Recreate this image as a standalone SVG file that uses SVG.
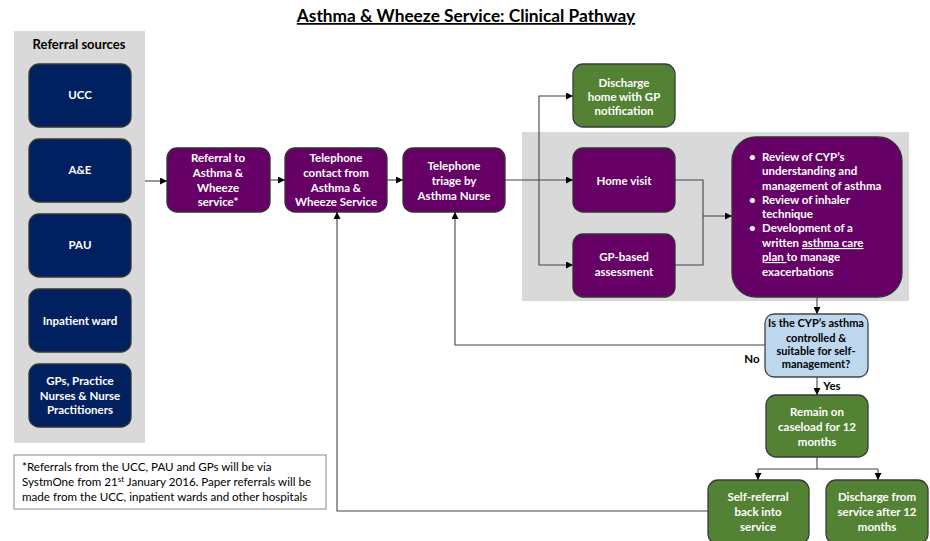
<svg xmlns="http://www.w3.org/2000/svg" width="930" height="541" viewBox="0 0 930 541">
<defs>
<marker id="ah" viewBox="0 0 10 10" refX="10" refY="5" markerWidth="7" markerHeight="7" markerUnits="userSpaceOnUse" orient="auto">
<path d="M0,0 L10,5 L0,10 z" fill="#000"/>
</marker>
<style>
text{font-family:Lato,"Liberation Sans",sans-serif;font-weight:bold;text-anchor:middle}
.t{fill:#fff;font-size:11.5px}
.d{fill:#000;font-size:11px}
.navy{fill:#002060;stroke:#333;stroke-width:1.3}
.purp{fill:#660066;stroke:#333;stroke-width:1.3}
.grn{fill:#548235;stroke:#3a3a3a;stroke-width:1.3}
.blue{fill:#BDD7EE;stroke:#444;stroke-width:1.3}
.panel{fill:#D9D9D9}
.c{fill:none;stroke:#444;stroke-width:1.1}
.ca{fill:none;stroke:#444;stroke-width:1.1;marker-end:url(#ah)}
.lbl{fill:#000;font-size:11.5px}
.fn{font-weight:normal;text-anchor:start;font-size:11.6px;fill:#000}
</style>
</defs>
<rect width="930" height="541" fill="#fff"/>
<text x="466" y="22" style="font-size:17.3px;text-decoration:underline" fill="#000">Asthma &amp; Wheeze Service: Clinical Pathway</text>

<rect class="panel" x="14" y="31" width="131" height="412"/>
<rect class="panel" x="522" y="132" width="387" height="169"/>
<text x="79" y="49" style="font-size:13px" fill="#000">Referral sources</text>

<g id="ucc"><rect class="navy" x="29" y="64" width="102" height="63" rx="10"/><text class="t" x="80" y="99">UCC</text></g>
<g id="ae"><rect class="navy" x="29" y="139" width="102" height="63" rx="10"/><text class="t" x="80" y="174">A&amp;E</text></g>
<g id="pau"><rect class="navy" x="29" y="214" width="102" height="63" rx="10"/><text class="t" x="80" y="249">PAU</text></g>
<g id="inpatient"><rect class="navy" x="29" y="289" width="102" height="63" rx="10"/><text class="t" x="80" y="325">Inpatient ward</text></g>
<g id="gps"><rect class="navy" x="29" y="364" width="102" height="63" rx="10"/><text class="t" x="80" y="385">GPs, Practice</text><text class="t" x="80" y="400">Nurses &amp; Nurse</text><text class="t" x="80" y="414">Practitioners</text></g>

<g id="footnote"><rect x="14" y="455" width="312" height="54" fill="#fff" stroke="#888" stroke-width="1"/>
<text class="fn" x="22" y="471">*Referrals from the UCC, PAU and GPs will be via</text>
<text class="fn" x="22" y="486">SystmOne from 21<tspan dy="-4" style="font-size:8px">st</tspan><tspan dy="4"> January 2016. Paper referrals will be</tspan></text>
<text class="fn" x="22" y="501">made from the UCC, inpatient wards and other hospitals</text></g>

<g id="referral"><rect class="purp" x="167" y="148" width="103" height="64" rx="10"/><text class="t" x="218" y="162">Referral to</text><text class="t" x="218" y="177">Asthma &amp;</text><text class="t" x="218" y="192">Wheeze</text><text class="t" x="218" y="206">service*</text></g>
<g id="contact"><rect class="purp" x="285" y="148" width="102" height="64" rx="10"/><text class="t" x="336" y="162">Telephone</text><text class="t" x="336" y="177">contact from</text><text class="t" x="336" y="192">Asthma &amp;</text><text class="t" x="336" y="206">Wheeze Service</text></g>
<g id="triage"><rect class="purp" x="403" y="148" width="102" height="64" rx="10"/><text class="t" x="454" y="170">Telephone</text><text class="t" x="454" y="185">triage by</text><text class="t" x="454" y="200">Asthma Nurse</text></g>

<g id="discharge-home"><rect class="grn" x="573" y="64" width="102" height="63" rx="10"/><text class="t" x="624" y="87">Discharge</text><text class="t" x="624" y="101">home with GP</text><text class="t" x="624" y="115">notification</text></g>
<g id="home-visit"><rect class="purp" x="573" y="148" width="102" height="64" rx="10"/><text class="t" x="624" y="185">Home visit</text></g>
<g id="gp-based"><rect class="purp" x="573" y="234" width="102" height="63" rx="10"/><text class="t" x="624" y="261">GP-based</text><text class="t" x="624" y="276">assessment</text></g>

<g id="review"><rect class="purp" x="732" y="137" width="170" height="160" rx="24"/>
<text class="t" x="749" y="161" style="text-anchor:start">•</text><text class="t" x="762" y="161" style="text-anchor:start">Review of CYP’s</text>
<text class="t" x="762" y="175" style="text-anchor:start">understanding and</text>
<text class="t" x="762" y="190" style="text-anchor:start">management of asthma</text>
<text class="t" x="749" y="204" style="text-anchor:start">•</text><text class="t" x="762" y="204" style="text-anchor:start">Review of inhaler</text>
<text class="t" x="762" y="218" style="text-anchor:start">technique</text>
<text class="t" x="749" y="232" style="text-anchor:start">•</text><text class="t" x="762" y="232" style="text-anchor:start">Development of a</text>
<text class="t" x="762" y="247" style="text-anchor:start">written <tspan style="text-decoration:underline">asthma care</tspan></text>
<text class="t" x="762" y="261" style="text-anchor:start"><tspan style="text-decoration:underline">plan </tspan>to manage</text>
<text class="t" x="762" y="276" style="text-anchor:start">exacerbations</text>
</g>

<g id="decision"><rect class="blue" x="765" y="314" width="103" height="63" rx="9"/><text class="d" x="816" y="327">Is the CYP’s asthma</text><text class="d" x="816" y="342">controlled &amp;</text><text class="d" x="816" y="355">suitable for self-</text><text class="d" x="816" y="368">management?</text></g>

<g id="remain"><rect class="grn" x="766" y="395" width="102" height="62" rx="10"/><text class="t" x="817" y="416">Remain on</text><text class="t" x="817" y="431">caseload for 12</text><text class="t" x="817" y="446">months</text></g>
<g id="self-referral"><rect class="grn" x="708" y="480" width="101" height="64" rx="10"/><text class="t" x="758" y="501">Self-referral</text><text class="t" x="758" y="516">back into</text><text class="t" x="758" y="531">service</text></g>
<g id="discharge-service"><rect class="grn" x="826" y="480" width="102" height="64" rx="10"/><text class="t" x="877" y="501">Discharge from</text><text class="t" x="877" y="516">service after 12</text><text class="t" x="877" y="531">months</text></g>

<g id="connectors">
<path class="ca" d="M145,181 H167"/>
<path class="ca" d="M270,180 H285"/>
<path class="ca" d="M387,180 H403"/>
<path class="ca" d="M505,180 H573"/>
<path class="ca" d="M539,180 V96 H573"/>
<path class="ca" d="M539,180 V265 H573"/>
<path class="c" d="M675,180 H703 V265 H675"/>
<path class="ca" d="M703,216 H732"/>
<path class="ca" d="M817,297 V314"/>
<path class="ca" d="M765,345 H455 V212"/>
<path class="ca" d="M817,377 V395"/>
<path class="c" d="M817,457 V469"/>
<path class="ca" d="M758,469 V480"/>
<path class="ca" d="M878,469 V480"/>
<path class="c" d="M758,469 H878"/>
<path class="ca" d="M708,511 H337 V212"/>
<text class="lbl" x="752" y="363">No</text>
<text class="lbl" x="832" y="390">Yes</text>
</g>
</svg>
